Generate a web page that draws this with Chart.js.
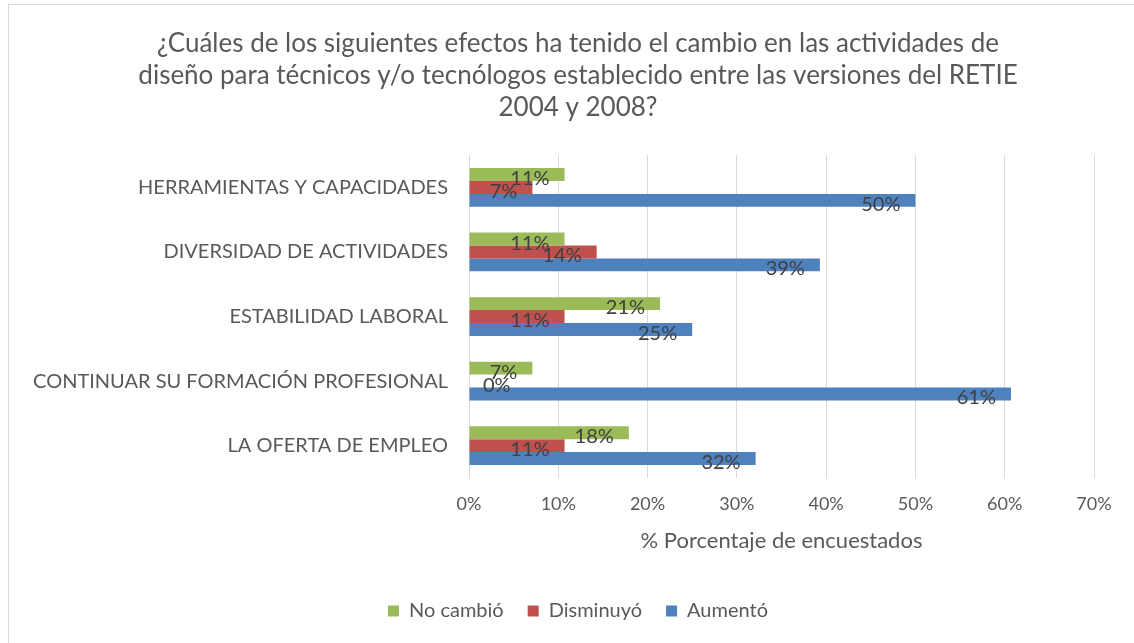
<!DOCTYPE html>
<html>
<head>
<meta charset="utf-8">
<script src="https://cdn.jsdelivr.net/npm/chart.js@4"></script>
<style>
  html, body { margin: 0; padding: 0; background: #fff; }
  #wrap { position: relative; width: 1134px; height: 643px; }
  #frame { position: absolute; left: 8px; top: 4px; width: 1140px; height: 660px; border: 1px solid #d9d9d9; box-sizing: border-box; }
</style>
</head>
<body>
<div id="wrap">
  <div id="frame"></div>
  <canvas id="chart" width="1134" height="643"></canvas>
</div>
<script>
// Categories, top to bottom
const categories = [
  'HERRAMIENTAS Y CAPACIDADES',
  'DIVERSIDAD DE ACTIVIDADES',
  'ESTABILIDAD LABORAL',
  'CONTINUAR SU FORMACIÓN PROFESIONAL',
  'LA OFERTA DE EMPLEO'
];

// Percentages
const noCambio = [10.7, 10.7, 21.4, 7.1, 17.9];
const disminuyo = [7.1, 14.3, 10.7, 0, 10.7];
const aumento = [50.0, 39.3, 25.0, 60.7, 32.1];

const seriesNames = ['No cambió', 'Disminuyó', 'Aumentó'];
const seriesColors = ['#9bbb59', '#c0504d', '#4f81bd'];

const titleLines = [
  '¿Cuáles de los siguientes efectos ha tenido el cambio en las actividades de',
  'diseño para técnicos y/o tecnólogos establecido entre las versiones del RETIE',
  '2004 y 2008?'
];

const FONT = 'Lato';
const GREY = '#595959';

// Excel style "inside end" data labels
const barLabels = {
  id: 'barLabels',
  afterDatasetsDraw(chart) {
    const ctx = chart.ctx;
    const base = chart.scales.x.getPixelForValue(0);
    ctx.save();
    ctx.font = '20px ' + FONT;
    ctx.fillStyle = '#404040';
    ctx.textAlign = 'right';
    ctx.textBaseline = 'middle';
    chart.data.datasets.forEach((ds, i) => {
      chart.getDatasetMeta(i).data.forEach((bar, j) => {
        const txt = Math.round(ds.data[j]) + '%';
        const w = ctx.measureText(txt).width;
        const x = Math.max(bar.x - 15, base + w + 14);
        ctx.fillText(txt, x, bar.y + 4);
      });
    });
    ctx.restore();
  }
};

// title and legend sit centred on the whole frame, not on the padded box
const shiftBlocks = {
  id: 'shiftBlocks',
  afterLayout(chart) {
    [chart.titleBlock, chart.legend].forEach(b => {
      if (b) { b.left += 31; b.right += 31; }
    });
  }
};

new Chart(document.getElementById('chart'), {
  type: 'bar',
  data: {
    labels: categories,
    datasets: [
      { label: seriesNames[0], data: noCambio, backgroundColor: seriesColors[0] },
      { label: seriesNames[1], data: disminuyo, backgroundColor: seriesColors[1] },
      { label: seriesNames[2], data: aumento, backgroundColor: seriesColors[2] }
    ]
  },
  options: {
    indexAxis: 'y',
    responsive: false,
    animation: false,
    layout: { padding: { left: 0, right: 40, top: 28, bottom: 12 } },
    datasets: {
      bar: { categoryPercentage: 0.6, barPercentage: 1.0 }
    },
    scales: {
      x: {
        min: 0,
        max: 70,
        ticks: {
          stepSize: 10,
          callback: v => v + '%',
          color: GREY,
          font: { family: FONT, size: 18, lineHeight: 1.0 },
          padding: 17.5
        },
        grid: { color: '#d9d9d9', drawTicks: false },
        border: { display: false },
        title: {
          display: true,
          text: '% Porcentaje de encuestados',
          color: GREY,
          font: { family: FONT, size: 22, lineHeight: 0.9 },
          padding: { top: 0, bottom: 26.3 }
        }
      },
      y: {
        ticks: {
          color: GREY,
          font: { family: FONT, size: 20 },
          padding: 13
        },
        grid: { display: false },
        border: { display: false },
        afterFit(scale) { scale.width = 469; }
      }
    },
    plugins: {
      title: {
        display: true,
        text: titleLines,
        color: GREY,
        font: { family: FONT, size: 26, weight: 'normal', lineHeight: 1.22 },
        padding: { top: 0, bottom: 32 }
      },
      legend: {
        position: 'bottom',
        labels: {
          color: GREY,
          font: { family: FONT, size: 20 },
          boxWidth: 11,
          boxHeight: 11,
          padding: 24
        }
      },
      tooltip: { enabled: false }
    }
  },
  plugins: [barLabels, shiftBlocks]
});
</script>
</body>
</html>
